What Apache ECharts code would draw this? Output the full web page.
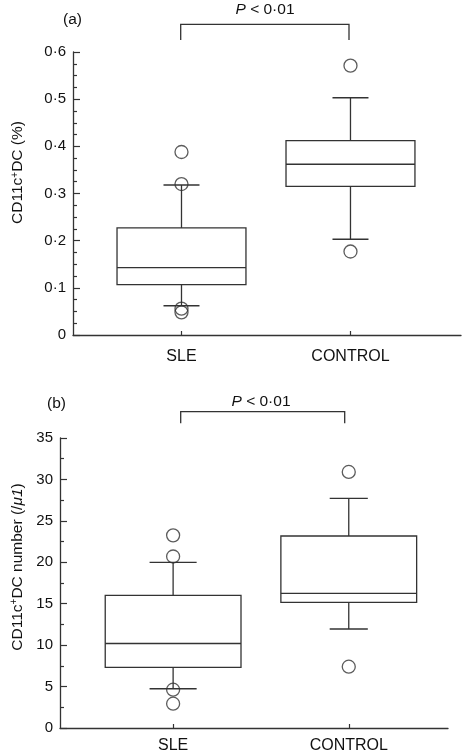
<!DOCTYPE html>
<html>
<head>
<meta charset="utf-8">
<script src="https://cdn.jsdelivr.net/npm/echarts@6/dist/echarts.min.js"></script>
<style>
html,body{margin:0;padding:0;background:#fff;}
#chart{width:462px;height:756px;}
</style>
</head>
<body>
<div id="chart"></div>
<script>
// ---- data ----
var categories = ['SLE', 'CONTROL'];
// panel (a): CD11c+DC (%)  [lowerWhisker, Q1, median, Q3, upperWhisker]
var boxA_SLE = [0.062, 0.107, 0.143, 0.227, 0.318];
var boxA_CONTROL = [0.203, 0.315, 0.362, 0.412, 0.503];
var outliersA_SLE = [0.388, 0.320, 0.056, 0.048];
var outliersA_CONTROL = [0.571, 0.177];
// panel (b): CD11c+DC number (/μ1)
var boxB_SLE = [4.74, 7.31, 10.2, 16.0, 20.0];
var boxB_CONTROL = [11.95, 15.16, 16.24, 23.17, 27.71];
var outliersB_SLE = [23.25, 20.7, 4.62, 2.93];
var outliersB_CONTROL = [30.9, 7.4];
var yTicksA = [0, 0.1, 0.2, 0.3, 0.4, 0.5, 0.6];
var yTicksB = [0, 5, 10, 15, 20, 25, 30, 35];
var pText = '{i|P} < 0·01';

// ---- build ----
var FONT = "'Liberation Sans', Arial, Helvetica, sans-serif";
var LINE = '#333';
var TXT = '#111';

function boxData(sle, ctl) {
  return [[1].concat(sle), [2].concat(ctl)];
}
function outData(sle, ctl) {
  var d = [];
  sle.forEach(function (v) { d.push([1, v]); });
  ctl.forEach(function (v) { d.push([2, v]); });
  return d;
}
function boxRender(boxW, caps) {
  return function (params, api) {
    var x = api.value(0);
    var pLo = api.coord([x, api.value(1)]);
    var pQ1 = api.coord([x, api.value(2)]);
    var pMed = api.coord([x, api.value(3)]);
    var pQ3 = api.coord([x, api.value(4)]);
    var pHi = api.coord([x, api.value(5)]);
    var half = api.size([boxW, 0])[0] / 2;
    var ch = api.size([caps[params.dataIndex], 0])[0] / 2;
    var cx = pMed[0];
    var st = {stroke: LINE, lineWidth: 1.3, fill: null};
    return {
      type: 'group',
      children: [
        {type: 'rect', shape: {x: cx - half, y: pQ3[1], width: 2 * half, height: pQ1[1] - pQ3[1]}, style: {stroke: LINE, lineWidth: 1.3, fill: 'rgba(0,0,0,0)'}},
        {type: 'line', shape: {x1: cx - half, y1: pMed[1], x2: cx + half, y2: pMed[1]}, style: st},
        {type: 'line', shape: {x1: cx, y1: pQ3[1], x2: cx, y2: pHi[1]}, style: st},
        {type: 'line', shape: {x1: cx, y1: pQ1[1], x2: cx, y2: pLo[1]}, style: st},
        {type: 'line', shape: {x1: cx - ch, y1: pHi[1], x2: cx + ch, y2: pHi[1]}, style: st},
        {type: 'line', shape: {x1: cx - ch, y1: pLo[1], x2: cx + ch, y2: pLo[1]}, style: st}
      ]
    };
  };
}
function fmtDot(v) {
  if (v === 0) return '0';
  return (Math.round(v * 10) / 10).toFixed(1).replace('.', '·');
}
function xAxisCfg(idx, min, max, margin) {
  return {
    type: 'value', gridIndex: idx, min: min, max: max,
    axisLine: {show: true, onZero: false, lineStyle: {color: LINE, width: 1.3}},
    axisTick: {show: true, inside: true, length: 4, customValues: [1, 2], lineStyle: {color: LINE, width: 1.2}},
    axisLabel: {show: true, customValues: [1, 2], margin: margin, color: TXT, fontSize: 16, fontFamily: FONT,
      formatter: function (v) { return categories[Math.round(v) - 1] || ''; }},
    splitLine: {show: false}
  };
}
function yAxisCfg(idx, max, interval, minorSplit, nameRich, gap, shift, fmt) {
  return {
    type: 'value', gridIndex: idx, min: 0, max: max, interval: interval,
    axisLine: {show: true, lineStyle: {color: LINE, width: 1.3}},
    axisTick: {show: true, inside: true, length: 7, lineStyle: {color: LINE, width: 1.2}},
    minorTick: {show: true, splitNumber: minorSplit, length: 4, lineStyle: {color: LINE, width: 1.2}},
    axisLabel: {color: TXT, fontSize: 15, fontFamily: FONT, margin: 7, formatter: fmt},
    splitLine: {show: false},
    minorSplitLine: {show: false},
    name: nameRich, nameLocation: 'middle', nameRotate: 90, nameGap: gap,
    nameTextStyle: {color: TXT, fontSize: 15.5, fontFamily: FONT, padding: [0, 0, 0, shift],
      rich: {
        a: {fontSize: 15.5, fontFamily: FONT, color: TXT},
        s: {fontSize: 10, fontFamily: FONT, color: TXT, verticalAlign: 'top'},
        i: {fontSize: 15.5, fontFamily: FONT, color: TXT, fontStyle: 'italic'}
      }}
  };
}

var chart = echarts.init(document.getElementById('chart'), null, {renderer: 'canvas'});
var option = {
  backgroundColor: '#fff',
  animation: false,
  grid: [
    {left: 73, right: 1, top: 52, height: 283, containLabel: false, outerBoundsMode: 'none'},
    {left: 60, right: 14, top: 438, height: 290, containLabel: false, outerBoundsMode: 'none'}
  ],
  xAxis: [
    xAxisCfg(0, 0.358, 2.654, 14),
    xAxisCfg(1, 0.356, 2.565, 10)
  ],
  yAxis: [
    yAxisCfg(0, yTicksA[yTicksA.length - 1], yTicksA[1] - yTicksA[0], 4, '{a|CD11c}{s|+}{a|DC (%)}', 47, 42, fmtDot),
    yAxisCfg(1, yTicksB[yTicksB.length - 1], yTicksB[1] - yTicksB[0], 2, '{a|CD11c}{s|+}{a|DC number (/}{i|μ1}{a|)}', 34, 32, function (v) { return String(v); })
  ],
  series: [
    {type: 'custom', xAxisIndex: 0, yAxisIndex: 0, renderItem: boxRender(0.763, [0.213, 0.213]), data: boxData(boxA_SLE, boxA_CONTROL), encode: {x: 0, y: [1, 2, 3, 4, 5]}},
    {type: 'custom', xAxisIndex: 1, yAxisIndex: 1, renderItem: boxRender(0.773, [0.268, 0.217]), data: boxData(boxB_SLE, boxB_CONTROL), encode: {x: 0, y: [1, 2, 3, 4, 5]}},
    {type: 'scatter', xAxisIndex: 0, yAxisIndex: 0, symbol: 'circle', symbolSize: 13, data: outData(outliersA_SLE, outliersA_CONTROL),
      itemStyle: {color: 'rgba(0,0,0,0)', borderColor: LINE, borderWidth: 1.3}, z: 3},
    {type: 'scatter', xAxisIndex: 1, yAxisIndex: 1, symbol: 'circle', symbolSize: 13, data: outData(outliersB_SLE, outliersB_CONTROL),
      itemStyle: {color: 'rgba(0,0,0,0)', borderColor: LINE, borderWidth: 1.3}, z: 3}
  ],
  graphic: [
    {type: 'text', left: 63, top: 12, style: {text: '(a)', fill: TXT, font: '15.5px ' + FONT}},
    {type: 'text', left: 47, top: 396, style: {text: '(b)', fill: TXT, font: '15.5px ' + FONT}},
    {type: 'text', x: 265, y: 10, style: {text: pText, fill: TXT, font: '15.5px ' + FONT, align: 'center', verticalAlign: 'middle',
      rich: {i: {fontStyle: 'italic', fontSize: 15.5, fontFamily: FONT, fill: TXT}}}},
    {type: 'text', x: 261, y: 402, style: {text: pText, fill: TXT, font: '15.5px ' + FONT, align: 'center', verticalAlign: 'middle',
      rich: {i: {fontStyle: 'italic', fontSize: 15.5, fontFamily: FONT, fill: TXT}}}},
    {type: 'polyline', shape: {points: [[180.7, 40], [180.7, 24.3], [349, 24.3], [349, 40]]}, style: {stroke: LINE, lineWidth: 1.3, fill: null}},
    {type: 'polyline', shape: {points: [[180.7, 423.3], [180.7, 411.7], [344.7, 411.7], [344.7, 423.3]]}, style: {stroke: LINE, lineWidth: 1.3, fill: null}}
  ]
};
chart.setOption(option);
</script>
</body>
</html>
